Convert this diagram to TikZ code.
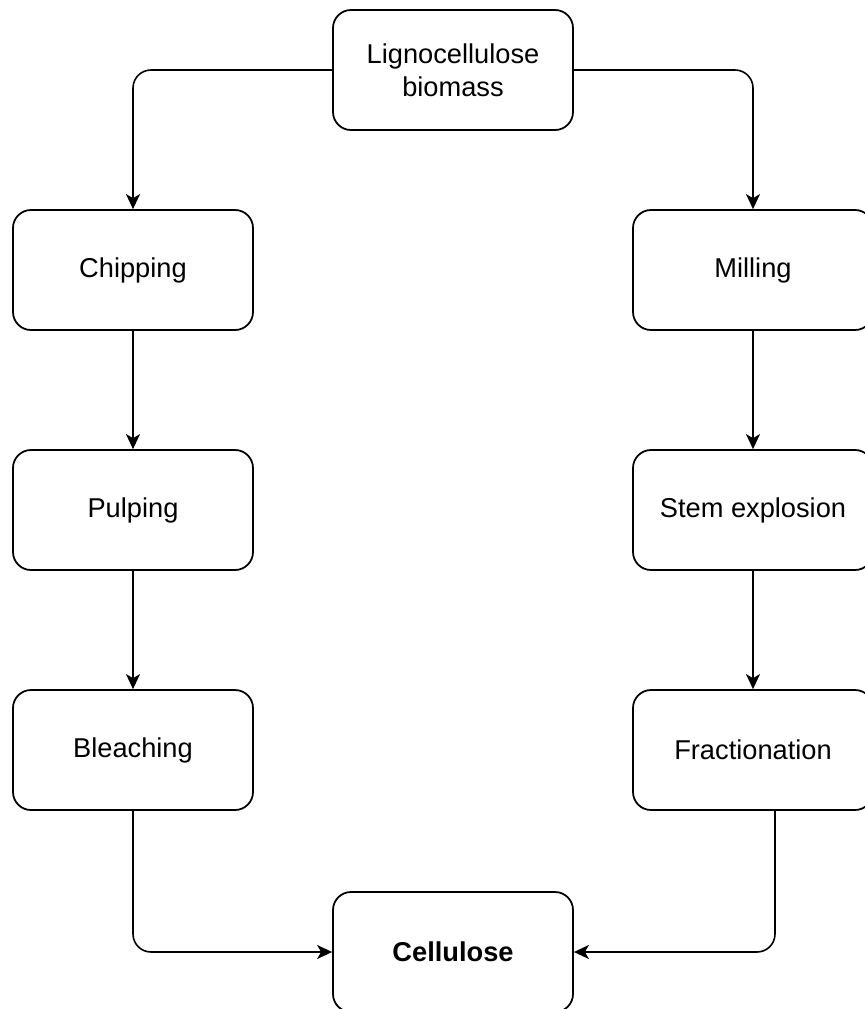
\documentclass[tikz,border=0pt]{standalone}
\usepackage{fontspec}
\setmainfont{Liberation Sans}
\usetikzlibrary{arrows.meta}
\begin{document}
\begin{tikzpicture}[>={Stealth[length=0.3cm,width=0.28cm,inset=0.08cm]},
		stage/.style={draw,line width=1pt,rounded corners=0.36cm,minimum width=4.8cm,minimum height=2.4cm,inner sep=0pt,align=center,font=\fontsize{15.5}{19}\selectfont},
		flow/.style={->,line width=0.9pt,rounded corners=0.36cm}]
		\useasboundingbox (0,0) rectangle (17.28,-20.18);
		\node[stage] (lig) at (9.06,-1.40) {Lignocellulose\\biomass};
		\node[stage] (chip) at (2.66,-5.40) {Chipping};
		\node[stage] (pulp) at (2.66,-10.20) {Pulping};
		\node[stage] (bleach) at (2.66,-15.00) {Bleaching};
		\node[stage] (mill) at (15.06,-5.40) {Milling};
		\node[stage] (stem) at (15.06,-10.20) {Stem explosion};
		\node[stage] (frac) at (15.06,-15.00) {Fractionation};
		\node[stage] (cell) at (9.06,-19.04) {\bfseries Cellulose};
		\coordinate (fracout) at ([xshift=0.44cm]frac.south);
		\draw[flow] (lig.west) -| (chip.north);
		\draw[flow] (lig.east) -| (mill.north);
		\draw[flow] (chip) -- (pulp);
		\draw[flow] (pulp) -- (bleach);
		\draw[flow] (mill) -- (stem);
		\draw[flow] (stem) -- (frac);
		\draw[flow] (bleach.south) |- (cell.west);
		\draw[flow] (fracout) |- (cell.east);
	\end{tikzpicture}
\end{document}
